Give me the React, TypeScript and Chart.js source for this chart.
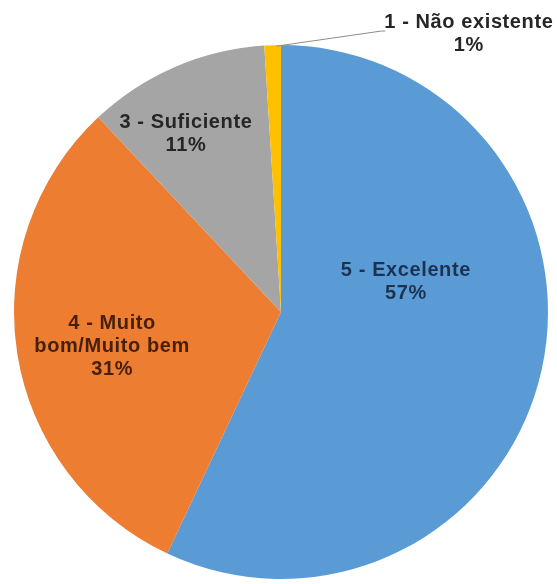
import React, { useEffect, useRef } from "react";
import { Chart, registerables } from "chart.js";

Chart.register(...registerables);

// ---- data ----
const categories = ["5 - Excelente", "4 - Muito bom/Muito bem", "3 - Suficiente", "1 - Não existente"];
const labelLines = [["5 - Excelente"], ["4 - Muito", "bom/Muito bem"], ["3 - Suficiente"], ["1 - Não existente"]];
const percentages = [57, 31, 11, 1];

// ---- styles ----
const sliceColors = ["#5B9BD5", "#ED7D31", "#A5A5A5", "#FFC000"];
const labelColors = ["#1b3350", "#47200a", "#262626", "#262626"];
// [radius fraction, angle clockwise from 12 o'clock in degrees]
const labelPlacement: [number, number][] = [
  [0.481, 76.5],
  [0.646, 258.3],
  [0.756, 331.9],
  [1.258, 34.0],
];
const FONT = "bold 20px 'Liberation Sans', Arial, sans-serif";
const LINE_H = 23;

const labelPlugin = {
  id: "sliceLabels",
  afterDatasetsDraw(chart: any) {
    const ctx = chart.ctx as CanvasRenderingContext2D;
    const meta = chart.getDatasetMeta(0);
    ctx.save();
    ctx.font = FONT;
    (ctx as any).letterSpacing = "0.6px";
    ctx.textAlign = "center";
    ctx.textBaseline = "middle";
    meta.data.forEach((arc: any, i: number) => {
      const { x, y, outerRadius, startAngle, endAngle } = arc.getProps(
        ["x", "y", "outerRadius", "startAngle", "endAngle"],
        true
      );
      const [frac, deg] = labelPlacement[i];
      const a = ((deg - 90) * Math.PI) / 180;
      const cx = x + frac * outerRadius * Math.cos(a);
      const cy = y + frac * outerRadius * Math.sin(a);
      const lines = [...labelLines[i], percentages[i] + "%"];
      const top = cy - ((lines.length - 1) * LINE_H) / 2;
      if (frac > 1) {
        // leader line
        const mid = (startAngle + endAngle) / 2;
        const ox = x + outerRadius * Math.cos(mid) + 4;
        const oy = y + outerRadius * Math.sin(mid) + 1;
        const w = ctx.measureText(lines[0]).width;
        const ex = cx - w / 2 - 3;
        const ey = top + 9;
        ctx.strokeStyle = "#8c8c8c";
        ctx.lineWidth = 1;
        ctx.beginPath();
        ctx.moveTo(ox, oy);
        ctx.lineTo(ex, ey);
        ctx.lineTo(ex + 4, ey);
        ctx.stroke();
      }
      ctx.fillStyle = labelColors[i];
      lines.forEach((t, k) => ctx.fillText(t, cx, top + k * LINE_H));
    });
    ctx.restore();
  },
};

export default function App() {
  const ref = useRef<HTMLCanvasElement | null>(null);
  useEffect(() => {
    if (!ref.current) return;
    const chart = new Chart(ref.current, {
      type: "pie",
      data: {
        labels: categories,
        datasets: [
          {
            data: percentages,
            backgroundColor: sliceColors,
            borderWidth: 0,
          },
        ],
      },
      options: {
        animation: false,
        responsive: true,
        maintainAspectRatio: false,
        layout: { padding: { left: 14, right: 9, top: 45, bottom: 5 } },
        plugins: { legend: { display: false }, tooltip: { enabled: false } },
      },
      plugins: [labelPlugin],
    });
    return () => chart.destroy();
  }, []);
  return (
    <div style={{ position: "absolute", left: 0, top: 0, width: 557, height: 584, background: "#fff" }}>
      <canvas ref={ref} />
    </div>
  );
}
